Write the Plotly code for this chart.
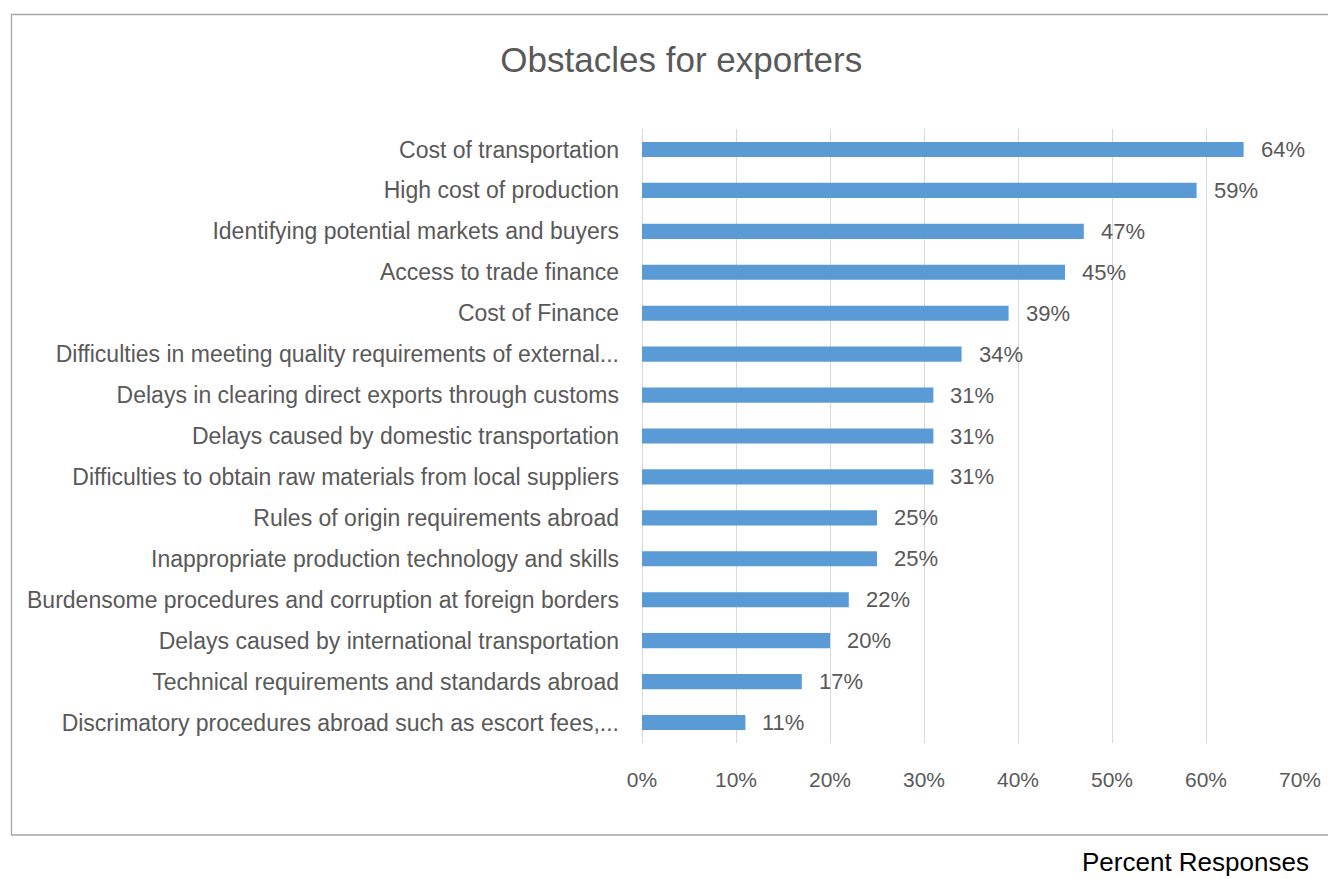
import plotly.graph_objects as go

categories = [
    "Cost of transportation",
    "High cost of production",
    "Identifying potential markets and buyers",
    "Access to trade finance",
    "Cost of Finance",
    "Difficulties in meeting quality requirements of external...",
    "Delays in clearing direct exports through customs",
    "Delays caused by domestic transportation",
    "Difficulties to obtain raw materials from local suppliers",
    "Rules of origin requirements abroad",
    "Inappropriate production technology and skills",
    "Burdensome procedures and corruption at foreign borders",
    "Delays caused by international transportation",
    "Technical requirements and standards abroad",
    "Discrimatory procedures abroad such as escort fees,...",
]
values = [64, 59, 47, 45, 39, 34, 31, 31, 31, 25, 25, 22, 20, 17, 11]
tick_vals = [0, 10, 20, 30, 40, 50, 60, 70]
tick_text = ["0%", "10%", "20%", "30%", "40%", "50%", "60%", "70%"]

FONT = "Liberation Sans, Arial, sans-serif"
GRAY = "#595959"

W, H = 1328, 879
L, R, T, B = 642, 28, 129, 136
pw, ph = W - L - R, H - T - B

def px_x(p):
    return (p - L) / pw

def px_y(p):
    return (H - B - p) / ph

fig = go.Figure()
fig.add_trace(go.Bar(
    x=values, y=categories, orientation="h",
    marker=dict(color="#5B9BD5", line=dict(width=0)),
    width=0.37, hoverinfo="skip",
))

for c, v in zip(categories, values):
    fig.add_annotation(x=v, y=c, xref="x", yref="y", text=f"{v}%",
                       showarrow=False, xanchor="left", xshift=15,
                       font=dict(family=FONT, size=22, color=GRAY))

fig.add_shape(type="rect", xref="paper", yref="paper",
              x0=px_x(11.5), x1=px_x(1345), y0=px_y(835), y1=px_y(14.5),
              line=dict(color="#A6A6A6", width=1.3), fillcolor="rgba(0,0,0,0)",
              layer="below")

fig.add_annotation(x=px_x(1080), y=px_y(862), xref="paper", yref="paper",
                   text="Percent Responses", showarrow=False,
                   xanchor="left", yanchor="middle",
                   font=dict(family="Liberation Sans, Arial, sans-serif", size=26, color="#000000"))

fig.update_layout(
    width=W, height=H,
    margin=dict(l=L, r=R, t=T, b=B, autoexpand=False),
    paper_bgcolor="white", plot_bgcolor="white",
    showlegend=False,
    title=dict(text="Obstacles for exporters", x=0.513, xanchor="center",
               y=1 - 60 / H, yanchor="middle",
               font=dict(family=FONT, size=35, color=GRAY)),
    xaxis=dict(range=[0, 70], tickvals=tick_vals, ticktext=tick_text,
               showgrid=True, gridcolor="#D9D9D9", gridwidth=1,
               zeroline=True, zerolinecolor="#D9D9D9", zerolinewidth=1,
               showline=False, ticks="", ticklabelstandoff=22,
               tickfont=dict(family=FONT, size=21, color=GRAY), fixedrange=True),
    yaxis=dict(categoryorder="array", categoryarray=categories[::-1],
               autorange=False, range=[-0.5, 14.5],
               showgrid=False, showline=False, ticks="", ticklabelstandoff=22,
               tickfont=dict(family=FONT, size=23, color=GRAY), fixedrange=True),
)

fig.write_html("out.html")
